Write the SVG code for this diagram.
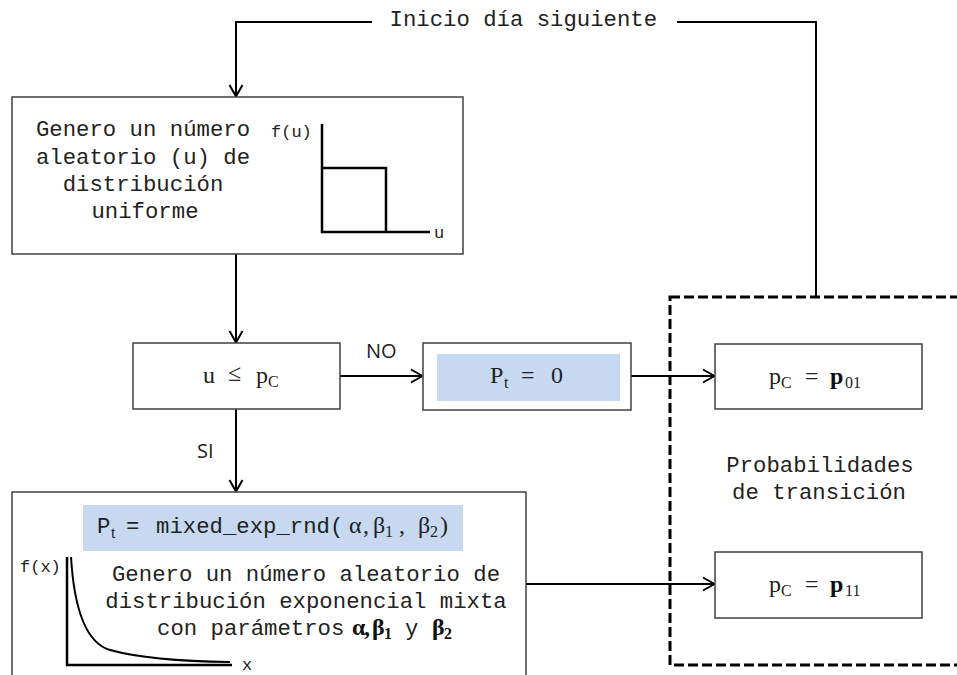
<svg xmlns="http://www.w3.org/2000/svg" width="957" height="675" viewBox="0 0 957 675">
  <defs>
    <style>
      .box { fill: #ffffff; stroke: #404040; stroke-width: 1.5; }
      .hl { fill: #c6d9f0; stroke: none; }
      .conn { fill: none; stroke: #000; stroke-width: 2; }
      .axis { fill: none; stroke: #000; stroke-width: 2.5; }
      .mono { font-family: "Liberation Mono", "Courier New", monospace; font-size: 22.3px; fill: #222; }
      .small { font-family: "Liberation Mono", "Courier New", monospace; font-size: 17px; fill: #222; }
      .math { font-family: "Liberation Serif", "DejaVu Serif", serif; font-size: 24px; fill: #222; }
      .mathb { font-family: "Liberation Serif", "DejaVu Serif", serif; font-size: 24px; font-weight: bold; fill: #111; }
      .sub { font-size: 16px; }
      .lbl { font-family: "Open Sans", "Noto Sans", sans-serif; font-size: 20px; fill: #222; }
      .dash { fill: none; stroke: #000; stroke-width: 3; stroke-dasharray: 10 4; }
    </style>
    <marker id="arr" markerUnits="userSpaceOnUse" markerWidth="14" markerHeight="16" viewBox="0 0 14 16" refX="13" refY="8" orient="auto">
      <path d="M1,1.5 L12.5,8 L1,14.5" fill="none" stroke="#000" stroke-width="2"/>
    </marker>
  </defs>

  <rect width="957" height="675" fill="#ffffff"/>

  <g id="transition-group">
    <rect class="dash" x="670" y="297" width="320" height="368"/>
    <text class="mono" x="820" y="472" text-anchor="middle">Probabilidades</text>
    <text class="mono" x="819" y="499" text-anchor="middle">de transición</text>
  </g>

  <g id="connectors">
    <path class="conn" d="M816,297 V22 H677"/>
    <path class="conn" d="M372,22 H236 V97" marker-end="url(#arr)"/>
    <path class="conn" d="M236,254 V343" marker-end="url(#arr)"/>
    <path class="conn" d="M340,376 H423" marker-end="url(#arr)"/>
    <path class="conn" d="M236,409 V492" marker-end="url(#arr)"/>
    <path class="conn" d="M631,376 H715" marker-end="url(#arr)"/>
    <path class="conn" d="M526,584 H715" marker-end="url(#arr)"/>
    <text class="mono" x="389.5" y="26">Inicio día siguiente</text>
    <text class="lbl" x="366" y="358">NO</text>
    <text class="lbl" x="197" y="458">SI</text>
  </g>

  <g id="uniform-node">
    <rect class="box" x="12" y="97" width="451" height="157"/>
    <text class="mono" x="143" y="136" text-anchor="middle">Genero un número</text>
    <text class="mono" x="143" y="163.5" text-anchor="middle">aleatorio (u) de</text>
    <text class="mono" x="143" y="191" text-anchor="middle">distribución</text>
    <text class="mono" x="145" y="218" text-anchor="middle">uniforme</text>
    <path class="axis" d="M322,124 V232 H430"/>
    <path class="axis" d="M322,168 H386 V232"/>
    <text class="small" x="271" y="137">f(u)</text>
    <text class="small" x="434" y="238">u</text>
  </g>

  <g id="decision-node">
    <rect class="box" x="133" y="343" width="207" height="66"/>
    <text class="math" x="203" y="383">u</text>
    <text class="math" x="228" y="381" font-size="20">≤</text>
    <text class="math" x="256" y="383">p</text>
    <text class="math sub" x="268" y="387">C</text>
  </g>

  <g id="zero-node">
    <rect class="box" x="423" y="343" width="208" height="67"/>
    <rect class="hl" x="437" y="354" width="183" height="47"/>
    <text class="math" x="490" y="383">P</text>
    <text class="math sub" x="504" y="388">t</text>
    <text class="math" x="521" y="383">=</text>
    <text class="math" x="551" y="383">0</text>
  </g>

  <g id="mixed-node">
    <rect class="box" x="12" y="492" width="514" height="200"/>
    <rect class="hl" x="83" y="505" width="380" height="46"/>
    <text class="mono" x="97" y="533">P</text>
    <text class="math sub" x="111" y="538">t</text>
    <text class="mono" x="126" y="533">=</text>
    <text class="mono" x="156" y="533">mixed_exp_rnd(</text>
    <text class="math" y="533" font-size="22"><tspan x="349">α</tspan><tspan x="363">,</tspan><tspan x="373">β</tspan><tspan class="sub" x="385" dy="4">1</tspan><tspan x="399" dy="-4">,</tspan><tspan x="418">β</tspan><tspan class="sub" x="430" dy="4">2</tspan></text>
    <text class="math" x="440" y="533" font-size="22">)</text>
    <text class="mono" x="306" y="581" text-anchor="middle">Genero un número aleatorio de</text>
    <text class="mono" x="306" y="608" text-anchor="middle">distribución exponencial mixta</text>
    <text class="mono" x="157" y="635">con parámetros</text>
    <text class="mathb" y="635" font-size="22"><tspan x="352">α</tspan><tspan x="364">,</tspan><tspan x="372">β</tspan><tspan class="sub" x="384" dy="4">1</tspan></text>
    <text class="mono" x="405" y="635">y</text>
    <text class="mathb" y="635" font-size="22"><tspan x="432">β</tspan><tspan class="sub" x="444" dy="4">2</tspan></text>
    <path class="axis" d="M67,557 V665 H232"/>
    <path class="conn" d="M71,557 Q76,640 110,650 Q150,661 230,662"/>
    <text class="small" x="20" y="572">f(x)</text>
    <text class="small" x="242" y="670">x</text>
  </g>

  <g id="p01-node">
    <rect class="box" x="715" y="344" width="207" height="65"/>
    <text class="math" x="769" y="384">p</text>
    <text class="math sub" x="781" y="388">C</text>
    <text class="math" x="805" y="384">=</text>
    <text class="mathb" x="830" y="384">p</text>
    <text class="math sub" x="845" y="388">01</text>
  </g>

  <g id="p11-node">
    <rect class="box" x="715" y="552" width="207" height="66"/>
    <text class="math" x="769" y="592">p</text>
    <text class="math sub" x="781" y="596">C</text>
    <text class="math" x="805" y="592">=</text>
    <text class="mathb" x="830" y="592">p</text>
    <text class="math sub" x="845" y="596">11</text>
  </g>
</svg>
